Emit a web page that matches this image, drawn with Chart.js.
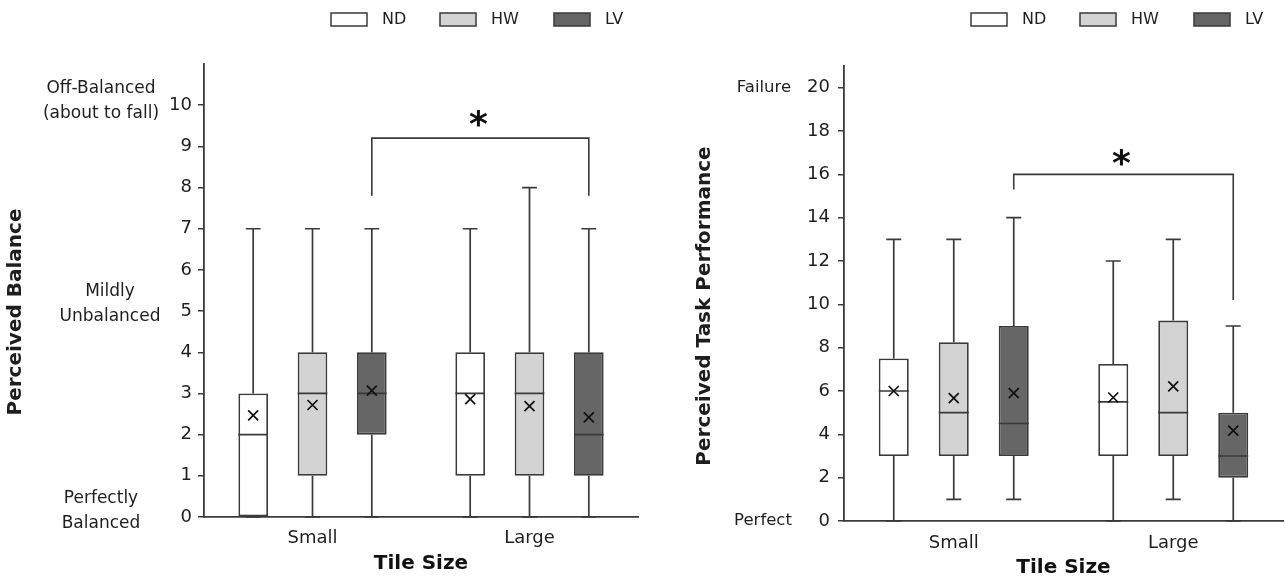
<!DOCTYPE html>
<html><head><meta charset="utf-8">
<script src="https://cdn.jsdelivr.net/npm/chart.js@4.4.1/dist/chart.umd.min.js"></script>
<style>
html,body{margin:0;padding:0;background:#fff;}
#wrap{position:relative;width:1285px;height:581px;overflow:hidden;}
.pane{position:absolute;top:0;height:581px;}
#p1{left:0;width:640px;}
#p2{left:640px;width:645px;}
</style></head><body>
<div id="wrap">
  <div class="pane" id="p1"><canvas id="balance"></canvas></div>
  <div class="pane" id="p2"><canvas id="perf"></canvas></div>
</div>
<script>
// ---------- DATA ----------
const categories = ['Small', 'Large'];
const seriesNames = ['ND', 'HW', 'LV'];

// five-number summaries per category: [min, q1, median, q3, max]
const balanceND = [[0, 0, 2, 3, 7], [0, 1, 3, 4, 7]];
const balanceHW = [[0, 1, 3, 4, 7], [0, 1, 3, 4, 8]];
const balanceLV = [[0, 2, 3, 4, 7], [0, 1, 2, 4, 7]];
const balanceMeanND = [2.47, 2.86];
const balanceMeanHW = [2.72, 2.69];
const balanceMeanLV = [3.07, 2.42];
const balanceTicks = [0, 1, 2, 3, 4, 5, 6, 7, 8, 9, 10];
const balanceBracket = [7.8, 9.2, 7.8];   // left leg end, top, right leg end
const balanceStar = 9.75;

const perfND = [[0, 3, 6, 7.5, 13], [0, 3, 5.5, 7.25, 12]];
const perfHW = [[1, 3, 5, 8.25, 13], [1, 3, 5, 9.25, 13]];
const perfLV = [[1, 3, 4.5, 9, 14], [0, 2, 3, 5, 9]];
const perfMeanND = [6.0, 5.7];
const perfMeanHW = [5.67, 6.21];
const perfMeanLV = [5.9, 4.17];
const perfTicks = [0, 2, 4, 6, 8, 10, 12, 14, 16, 18, 20];
const perfBracket = [15.3, 16.0, 10.2];
const perfStar = 16.95;

const balanceNotes = [
  {lines: ['Off-Balanced', '(about to fall)'], value: 10.1, x: 101},
  {lines: ['Mildly', 'Unbalanced'], value: 5.16, x: 110},
  {lines: ['Perfectly', 'Balanced'], value: 0.15, x: 101}
];
const perfNotes = [
  {lines: ['Failure'], value: 20, x: 124},
  {lines: ['Perfect'], value: 0, x: 123}
];

// ---------- STYLE ----------
const FILLS = ['#ffffff', '#d3d3d3', '#666666'];
const LINE = '#3a3a3a';
const TEXT = '#1e1e1e';
const FONT = "'DejaVu Sans', sans-serif";

const boxPlugin = {
  id: 'boxExtras',
  afterDatasetsDraw(chart) {
    const ctx = chart.ctx, y = chart.scales.y;
    chart.data.datasets.forEach((ds, di) => {
      const meta = chart.getDatasetMeta(di);
      meta.data.forEach((bar, j) => {
        const s = ds.stats[j];
        const x = bar.x, half = bar.width / 2, cap = bar.width / 4;
        const pMin = y.getPixelForValue(s[0]), pQ1 = y.getPixelForValue(s[1]);
        const pMed = y.getPixelForValue(s[2]), pQ3 = y.getPixelForValue(s[3]);
        const pMax = y.getPixelForValue(s[4]);
        ctx.save();
        ctx.strokeStyle = LINE; ctx.lineWidth = 1.7; ctx.lineCap = 'butt';
        ctx.beginPath();
        ctx.moveTo(x, pQ3); ctx.lineTo(x, pMax);
        ctx.moveTo(x - cap, pMax); ctx.lineTo(x + cap, pMax);
        ctx.moveTo(x, pQ1); ctx.lineTo(x, pMin);
        ctx.moveTo(x - cap, pMin); ctx.lineTo(x + cap, pMin);
        ctx.moveTo(x - half, pMed); ctx.lineTo(x + half, pMed);
        ctx.stroke();
        const pm = y.getPixelForValue(ds.means[j]);
        ctx.strokeStyle = '#111'; ctx.lineWidth = 1.7;
        ctx.beginPath();
        ctx.moveTo(x - 5, pm - 5); ctx.lineTo(x + 5, pm + 5);
        ctx.moveTo(x - 5, pm + 5); ctx.lineTo(x + 5, pm - 5);
        ctx.stroke();
        ctx.restore();
      });
    });
  },
  afterDraw(chart) {
    const ctx = chart.ctx, y = chart.scales.y;
    const o = chart.options.plugins.boxExtras;
    ctx.save();
    // significance bracket between LV boxes
    const lv = chart.getDatasetMeta(2).data;
    const x1 = lv[0].x, x2 = lv[1].x, br = o.bracket;
    ctx.strokeStyle = LINE; ctx.lineWidth = 1.6;
    ctx.beginPath();
    ctx.moveTo(x1, y.getPixelForValue(br[0]));
    ctx.lineTo(x1, y.getPixelForValue(br[1]));
    ctx.lineTo(x2, y.getPixelForValue(br[1]));
    ctx.lineTo(x2, y.getPixelForValue(br[2]));
    ctx.stroke();
    ctx.fillStyle = '#111';
    ctx.font = 'bold 36px ' + FONT;
    ctx.textAlign = 'center'; ctx.textBaseline = 'alphabetic';
    ctx.fillText('*', (x1 + x2) / 2 - 2, y.getPixelForValue(o.star) + 21);
    // legend
    const bx = [331, 440, 554];
    ctx.font = '16px ' + FONT; ctx.textAlign = 'left'; ctx.textBaseline = 'middle';
    chart.data.datasets.forEach((ds, i) => {
      ctx.fillStyle = ds.backgroundColor;
      ctx.fillRect(bx[i], 13, 36, 13);
      ctx.strokeStyle = LINE; ctx.lineWidth = 1.5;
      ctx.strokeRect(bx[i], 13, 36, 13);
      ctx.fillStyle = TEXT;
      ctx.fillText(ds.label, bx[i] + 51, 20);
    });
    // y-axis level notes
    ctx.font = o.noteFont + 'px ' + FONT; ctx.textAlign = 'center';
    o.notes.forEach(n => {
      const yc = y.getPixelForValue(n.value);
      const k = n.lines.length;
      n.lines.forEach((t, li) => {
        ctx.fillText(t, n.x, yc + (li - (k - 1) / 2) * 25);
      });
    });
    // y-axis title
    ctx.translate(o.titleX, o.titleY);
    ctx.rotate(-Math.PI / 2);
    ctx.font = 'bold 20px ' + FONT; ctx.textAlign = 'center'; ctx.textBaseline = 'middle';
    ctx.fillText(o.title, 0, 0);
    ctx.restore();
  }
};

function makeChart(id, cfg) {
  const stats = cfg.stats, means = cfg.means;
  const datasets = seriesNames.map((name, i) => ({
    label: name,
    data: stats[i].map(s => [s[1], s[3]]),
    stats: stats[i],
    means: means[i],
    backgroundColor: FILLS[i],
    borderColor: LINE,
    borderWidth: 1.8,
    borderSkipped: false,
    categoryPercentage: 0.82,
    barPercentage: 0.5
  }));
  return new Chart(document.getElementById(id), {
    type: 'bar',
    data: {labels: categories, datasets},
    plugins: [boxPlugin],
    options: {
      responsive: true, maintainAspectRatio: false, animation: false,
      devicePixelRatio: 1,
      layout: {padding: {top: cfg.top, right: 2, left: 0, bottom: 0}},
      plugins: {
        legend: {display: false}, tooltip: {enabled: false},
        boxExtras: {bracket: cfg.bracket, star: cfg.star, notes: cfg.notes, noteFont: cfg.noteFont,
                    title: cfg.title, titleX: cfg.titleX, titleY: cfg.titleY}
      },
      scales: {
        x: {
          grid: {display: false},
          border: {display: true, color: LINE, width: 1.8},
          ticks: {color: TEXT, font: {family: FONT, size: 18}, padding: cfg.xPad},
          title: {display: true, text: 'Tile Size', color: '#111',
                  font: {family: FONT, size: 20, weight: 'bold'}, padding: {top: 0, bottom: cfg.xTitlePad}},
          afterFit(scale) { scale.height = cfg.xHeight; }
        },
        y: {
          min: 0, max: cfg.max,
          grid: {drawOnChartArea: false, drawTicks: true, tickLength: 6, color: LINE, lineWidth: 1.5},
          border: {display: true, color: LINE, width: 1.8},
          ticks: {color: TEXT, font: {family: FONT, size: 18}, padding: cfg.yPad},
          afterBuildTicks(scale) { scale.ticks = cfg.ticks.map(v => ({value: v})); },
          afterFit(scale) { scale.width = 204; }
        }
      }
    }
  });
}

makeChart('balance', {
  stats: [balanceND, balanceHW, balanceLV],
  means: [balanceMeanND, balanceMeanHW, balanceMeanLV],
  ticks: balanceTicks, max: 11, top: 64, bracket: balanceBracket, star: balanceStar,
  notes: balanceNotes, noteFont: 17, title: 'Perceived Balance', titleX: 16, titleY: 312,
  xHeight: 64, xPad: 3, xTitlePad: 5, yPad: 6
});
makeChart('perf', {
  stats: [perfND, perfHW, perfLV],
  means: [perfMeanND, perfMeanHW, perfMeanLV],
  ticks: perfTicks, max: 21, top: 66, bracket: perfBracket, star: perfStar,
  notes: perfNotes, noteFont: 16.5, title: 'Perceived Task Performance', titleX: 65, titleY: 306,
  xHeight: 60, xPad: 4, xTitlePad: 1, yPad: 8
});
</script>
</body></html>
